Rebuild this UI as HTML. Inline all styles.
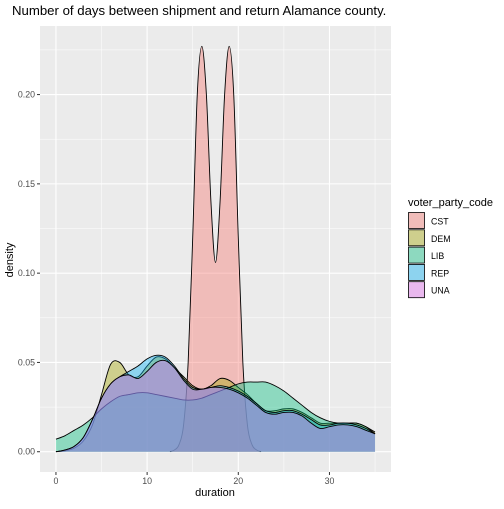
<!DOCTYPE html>
<html><head><meta charset="utf-8"><style>
body{margin:0;background:#fff;font-family:"Liberation Sans",sans-serif}
</style></head><body>
<svg id="c" width="504" height="504" xmlns="http://www.w3.org/2000/svg" style="font-family:'Liberation Sans',sans-serif">
<text x="12" y="15" font-size="13.2" fill="#000">Number of days between shipment and return Alamance county.</text>
<rect x="40" y="26" width="351" height="446" fill="#EBEBEB"/>
<g id="grid"></g><g id="marks"></g><g id="axes"></g>
<text x="215" y="496" font-size="11" text-anchor="middle" fill="#000">duration</text>
<text transform="translate(13,260) rotate(-90)" font-size="11" text-anchor="middle" fill="#000">density</text>
<g id="legend">
<text x="408" y="206" font-size="11" fill="#000">voter_party_code</text>
</g>
</svg>
<script>
const categories = ["CST","DEM","LIB","REP","UNA"];
const colors = ["#F8766D","#A3A500","#00BF7D","#00B0F6","#E76BF3"];
const xTicks = [0,10,20,30];
const yTicks = [0,0.05,0.10,0.15,0.20];
const yTickLabels = ["0.00","0.05","0.10","0.15","0.20"];
const gridX = [0,1,2,3,4,5,6,7,8,9,10,11,12,13,14,15,16,17,18,19,20,21,22,23,24,25,26,27,28,29,30,31,32,33,34,35];
const cstX = [12.5,13,13.5,14,14.5,15,15.5,16,16.5,17,17.5,18,18.5,19,19.5,20,20.5,21,21.5,22,22.5];
const cstY = [0,0.001,0.004,0.015,0.05,0.12,0.2,0.227,0.2,0.14,0.106,0.14,0.2,0.227,0.2,0.12,0.05,0.015,0.004,0.001,0];
const demY = [0,0.0005,0.002,0.006,0.015,0.032,0.049,0.05,0.043,0.042,0.048,0.053,0.052,0.047,0.042,0.037,0.035,0.037,0.041,0.04,0.036,0.032,0.027,0.023,0.023,0.024,0.024,0.022,0.019,0.016,0.016,0.016,0.016,0.016,0.014,0.011];
const libY = [0.007,0.009,0.012,0.015,0.019,0.024,0.028,0.031,0.032,0.033,0.033,0.032,0.031,0.030,0.029,0.029,0.030,0.032,0.034,0.036,0.038,0.039,0.039,0.039,0.037,0.034,0.030,0.026,0.022,0.019,0.017,0.016,0.016,0.016,0.014,0.010];
const repY = [0,0.001,0.003,0.008,0.018,0.030,0.038,0.042,0.045,0.048,0.052,0.054,0.053,0.048,0.041,0.036,0.035,0.036,0.037,0.036,0.034,0.031,0.027,0.023,0.022,0.023,0.023,0.021,0.018,0.015,0.015,0.016,0.016,0.015,0.013,0.010];
const unaY = [0,0.001,0.003,0.008,0.018,0.030,0.038,0.042,0.043,0.041,0.045,0.050,0.051,0.047,0.040,0.035,0.035,0.036,0.036,0.035,0.033,0.030,0.026,0.022,0.021,0.022,0.022,0.020,0.016,0.013,0.014,0.015,0.015,0.014,0.012,0.010];
const seriesX = [cstX, gridX, gridX, gridX, gridX];
const seriesY = [cstY, demY, libY, repY, unaY];

const NS="http://www.w3.org/2000/svg";
const x0=-1.75,x1=36.75,px0=40,px1=391;
const y0=-0.01135,y1=0.2384,py0=472,py1=26;
function sx(v){return px0+(v-x0)/(x1-x0)*(px1-px0);}
function sy(v){return py0-(v-y0)/(y1-y0)*(py0-py1);}
function mk(tag,attrs,parent){const e=document.createElementNS(NS,tag);for(const k in attrs)e.setAttribute(k,attrs[k]);parent.appendChild(e);return e;}
const grid=document.getElementById('grid'),marks=document.getElementById('marks'),axes=document.getElementById('axes');
// minor grid
for(let i=0;i<xTicks.length;i++){const m=xTicks[i]+5;const l=mk('line',{x1:sx(m),x2:sx(m),y1:py1,y2:py0,stroke:'#fff','stroke-width':0.5},grid);

}
for(let i=0;i<yTicks.length;i++){const m=yTicks[i]+0.025;const l=mk('line',{x1:px0,x2:px1,y1:sy(m),y2:sy(m),stroke:'#fff','stroke-width':0.5},grid);

}
xTicks.forEach(t=>{const l=mk('line',{x1:sx(t),x2:sx(t),y1:py1,y2:py0,stroke:'#fff','stroke-width':1.1},grid);


const tk=mk('line',{x1:sx(t),x2:sx(t),y1:py0,y2:py0+3,stroke:'#333','stroke-width':1},axes);


const tx=mk('text',{x:sx(t),y:py0+12,'font-size':8.8,'text-anchor':'middle',fill:'#4D4D4D'},axes);tx.textContent=t;

});
yTicks.forEach((t,i)=>{const l=mk('line',{x1:px0,x2:px1,y1:sy(t),y2:sy(t),stroke:'#fff','stroke-width':1.1},grid);


const tk=mk('line',{x1:px0-3,x2:px0,y1:sy(t),y2:sy(t),stroke:'#333','stroke-width':1},axes);


const tx=mk('text',{x:px0-5,y:sy(t)+3,'font-size':8.8,'text-anchor':'end',fill:'#4D4D4D'},axes);tx.textContent=yTickLabels[i];

});
function curve(xs,ys){const p=xs.map((x,i)=>[sx(x),sy(ys[i])]);let d='M'+p[0][0]+','+p[0][1];
for(let i=0;i<p.length-1;i++){const a=p[Math.max(0,i-1)],b=p[i],c=p[i+1],e=p[Math.min(p.length-1,i+2)];
const c1=[b[0]+(c[0]-a[0])/6,b[1]+(c[1]-a[1])/6],c2=[c[0]-(e[0]-b[0])/6,c[1]-(e[1]-b[1])/6];
c1[1]=Math.min(c1[1],sy(0));c2[1]=Math.min(c2[1],sy(0));
d+=' C'+c1[0]+','+c1[1]+' '+c2[0]+','+c2[1]+' '+c[0]+','+c[1];}return d;}
categories.forEach((c,i)=>{const xs=seriesX[i],ys=seriesY[i];const d=curve(xs,ys);
const f=mk('path',{d:d+' L'+sx(xs[xs.length-1])+','+sy(0)+' L'+sx(xs[0])+','+sy(0)+' Z',fill:colors[i],'fill-opacity':0.4,stroke:'none'},marks);


const l=mk('path',{d:d,fill:'none',stroke:'#000','stroke-width':0.9},marks);

});
const lg=document.getElementById('legend');
categories.forEach((c,i)=>{const y=212+i*17.3;
const r=mk('rect',{x:408.5,y:y+0.5,width:16,height:16,fill:'#EBEBEB'},lg);
const k=mk('rect',{x:408.5,y:y+0.5,width:16,height:16,fill:colors[i],'fill-opacity':0.4,stroke:'#000','stroke-width':0.8},lg);


const t=mk('text',{x:431,y:y+12.5,'font-size':8.8,fill:'#000'},lg);t.textContent=c;

});
</script>
</body></html>
